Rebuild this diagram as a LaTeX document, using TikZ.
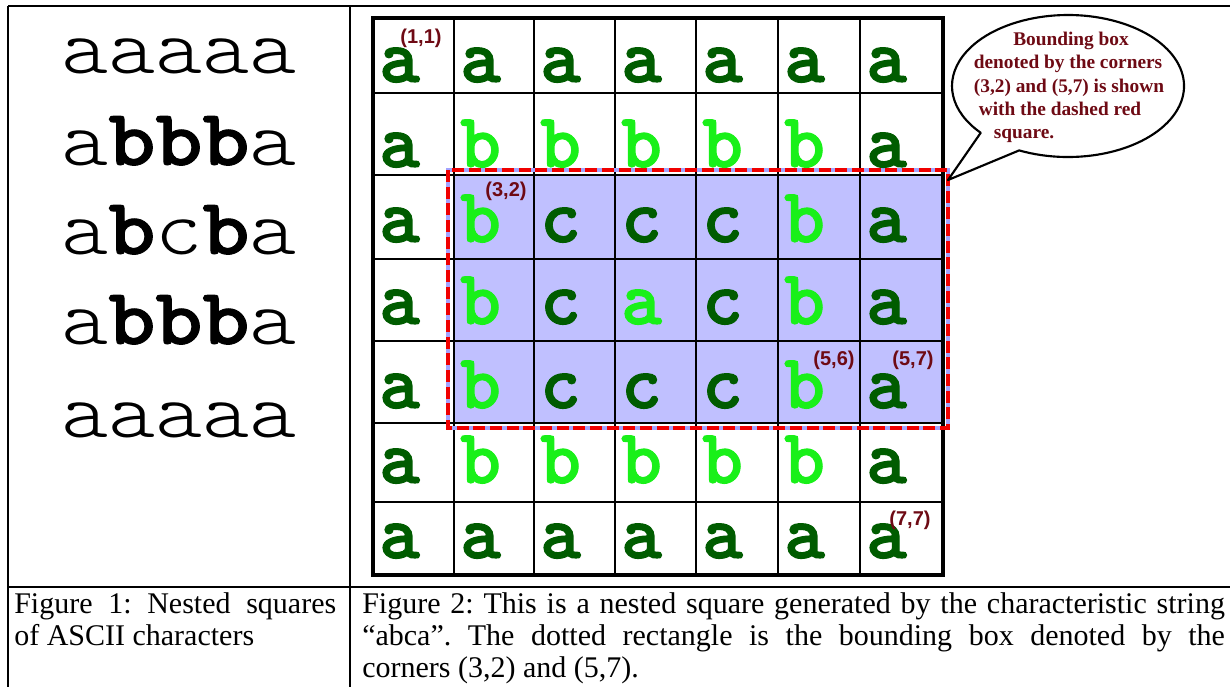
\documentclass[tikz,border=0pt]{standalone}
\usepackage{graphicx}
\usepackage{fontspec}
\setmainfont{Liberation Serif}
\newfontfamily\sansf{Liberation Sans}
\newfontfamily\gridf[FakeBold=1.5]{lmmonolt10-bold.otf}
\newfontfamily\leftf{lmmonolt10-regular.otf}
\newfontfamily\leftbf[FakeBold=1.2]{lmmonolt10-bold.otf}
\newcommand{\bb}[1]{{\leftbf #1}}
\frenchspacing
\usetikzlibrary{calc}
\definecolor{dkgreen}{RGB}{0,92,0}
\definecolor{ltgreen}{RGB}{25,240,25}
\definecolor{boxblue}{RGB}{192,192,255}
\definecolor{maroonc}{RGB}{110,10,20}
\definecolor{dashred}{RGB}{240,0,0}
\begin{document}
\begin{tikzpicture}[x=0.75pt,y=-0.75pt,
  rulethin/.style={line width=1.2pt},
  rulethick/.style={line width=2pt},
  gridin/.style={line width=2pt,black},
  gridout/.style={line width=2.9pt,black},
  cellletter/.style={font=\gridf\fontsize{58}{58}\selectfont,inner sep=0pt,anchor=base west},
  lbl/.style={font=\sansf\bfseries\fontsize{15}{15}\selectfont,text=maroonc,inner sep=0pt},
  leftline/.style={font=\leftf\fontsize{60}{60}\selectfont,inner sep=0pt,anchor=base},
  ctext/.style={font=\bfseries\fontsize{14.5}{14.5}\selectfont,text=maroonc,inner sep=0pt,anchor=base},
  captext/.style={font=\fontsize{22.5}{22.5}\selectfont,inner sep=0pt,anchor=base west}]
\useasboundingbox (0,0) rectangle (1230,687);
\fill[white] (0,0) rectangle (1230,687);
% table rules
\draw[line width=1.5pt] (8,6) -- (1230,6);
\draw[rulethin] (8,6) -- (8,687);
\draw[rulethin] (350,6) -- (350,687);
\draw[rulethick] (8,587) -- (1230,587);
% left column
\node[leftline] (r1) at (179,73) {\scalebox{1.12}[1]{aaaaa}};
\node[leftline] (r2) at (179,165) {\scalebox{1.12}[1]{a\bb{bbb}a}};
\node[leftline] (r3) at (179,254) {\scalebox{1.12}[1]{a\bb{b}c\bb{b}a}};
\node[leftline] (r4) at (179,344) {\scalebox{1.12}[1]{a\bb{bbb}a}};
\node[leftline] (r5) at (179,437) {\scalebox{1.12}[1]{aaaaa}};
% grid
\fill[boxblue] (454,175) rectangle (943,423);
\foreach \x in {454,534,615,696,778,860} \draw[gridin] (\x,18) -- (\x,575);
\foreach \y in {93,175,259,341,423,502} \draw[gridin] (373,\y) -- (943,\y);
\draw[gridout] (373,18) rectangle (943,575);
\draw[boxblue!85!blue, line width=2.6pt] (448,170) rectangle (948,428);
\draw[dashred, line width=2.6pt, dash pattern=on 9pt off 3.5pt] (448,170) rectangle (948,428);
% letters
\foreach \i in {1,...,7}{
  \foreach \j in {1,...,7}{
    \pgfmathtruncatemacro{\rng}{min(\i-1,\j-1,7-\i,7-\j)}
    \pgfmathsetmacro{\xx}{{373,454,534,615,696,778,860}[\i-1]}
    \pgfmathsetmacro{\yy}{{82,167,242,324,408,483,558}[\j-1]}
    \ifcase\rng \def\ch{a}\def\cl{dkgreen}\or \def\ch{b}\def\cl{ltgreen}\or \def\ch{c}\def\cl{dkgreen}\else \def\ch{a}\def\cl{ltgreen}\fi
    \node[cellletter, text=\cl] (L\i-\j) at (\xx+6,\yy) {\ch};
  }
}
% corner labels
\node[lbl] (p11) at (421,38) {(1,1)};
\node[lbl] (p32) at (506,191) {(3,2)};
\node[lbl] (p56) at (834,360) {(5,6)};
\node[lbl] (p57) at (913,360) {(5,7)};
\node[lbl] (p77) at (910,520) {(7,7)};
% callout
\coordinate (cc) at (1068,86);
\coordinate (tip) at (948,180);
\draw[line width=1.6pt, fill=white, line join=round] ($(cc)+(245.1:87pt and 53.25pt)$) arc[start angle=245.1, end angle=581.2, x radius=87pt, y radius=53.25pt] -- (tip) -- cycle;
\node[ctext] (t1) at (1071,45) {Bounding box};
\node[ctext] (t2) at (1068,68) {denoted by the corners};
\node[ctext] (t3) at (1069,92) {(3,2) and (5,7) is shown};
\node[ctext] (t4) at (1060,115) {with the dashed red};
\node[ctext] (t5) at (1024,138) {square.};
% captions
\node[captext] (c1a) at (14,613) {\makebox[241.5pt][s]{Figure 1: Nested squares}};
\node[captext] (c1b) at (14,645) {of ASCII characters};
\node[captext] (c2a) at (362,613) {\makebox[647pt][s]{Figure 2: This is a nested square generated by the characteristic string}};
\node[captext] (c2b) at (362,645) {\makebox[647pt][s]{“abca”. The dotted rectangle is the bounding box denoted by the}};
\node[captext] (c2c) at (362,677) {corners (3,2) and (5,7).};
\end{tikzpicture}
\end{document}
